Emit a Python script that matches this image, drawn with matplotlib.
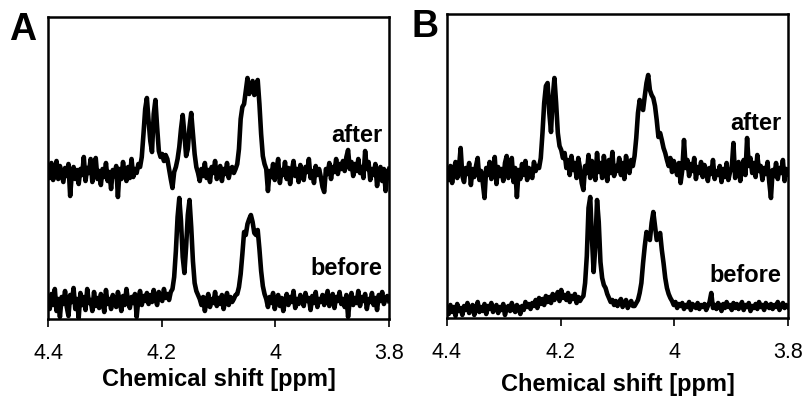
import numpy as np
import matplotlib
matplotlib.use('Agg')
import matplotlib.pyplot as plt

plt.rcParams['font.family'] = ['Liberation Sans', 'DejaVu Sans']

# chemical shift grid (ppm), 0.003 ppm step from 4.4 down to 3.8
ppm = np.linspace(4.4, 3.8, 201)
xticks = [4.4, 4.2, 4.0, 3.8]
xtick_labels = ['4.4', '4.2', '4', '3.8']
panel_names = ['A', 'B']

# intensities (arbitrary units, 0 = axis bottom)
A_after = [150, 141, 156, 139, 148, 158, 140, 153, 145, 137,
           151, 143, 155, 123, 146, 152, 140, 149, 135, 150,
           144, 162, 138, 151, 146, 160, 137, 152, 161, 140,
           148, 134, 150, 142, 156, 138, 147, 130, 149, 143,
           153, 122, 150, 140, 157, 145, 138, 152, 141, 160,
           142, 150, 146, 155, 152, 162, 185, 210, 221, 198,
           178, 167, 205, 219, 192, 168, 162, 165, 158, 164,
           160, 150, 140, 131, 147, 152, 160, 172, 190, 204,
           185, 163, 170, 192, 206, 186, 165, 152, 146, 138,
           150, 143, 156, 141, 149, 137, 152, 146, 158, 140,
           147, 153, 138, 150, 145, 156, 141, 149, 152, 146,
           150, 155, 170, 200, 212, 215, 228, 241, 225, 230,
           238, 224, 232, 239, 215, 185, 163, 155, 150, 128,
           148, 142, 155, 139, 150, 160, 136, 149, 144, 157,
           140, 151, 135, 148, 158, 143, 150, 137, 154, 145,
           139, 152, 147, 160, 141, 148, 136, 153, 144, 150,
           142, 132, 127, 150, 145, 156, 140, 152, 147, 160,
           145, 155, 150, 158, 148, 162, 169, 150, 157, 143,
           155, 148, 160, 146, 152, 141, 168, 150, 157, 139,
           150, 144, 155, 133, 148, 152, 138, 150, 128, 146,
           150]
A_before = [18, 10, 25, 14, 30, 8, 20, 2, 22, 15,
            28, 12, 3, 24, 17, 31, 10, 20, 1, 26,
            14, 22, 9, 30, 16, 19, 8, 27, 13, 21,
            11, 25, 18, 7, 29, 15, 20, 10, 24, 16,
            12, 27, 19, 8, 23, 14, 30, 17, 11, 22,
            16, 25, 2, 20, 28, 14, 23, 18, 26, 15,
            24, 17, 29, 20, 14, 27, 22, 18, 30, 21,
            25, 19, 27, 30, 42, 68, 102, 121, 98, 62,
            46, 72, 104, 119, 92, 58, 36, 28, 24, 20,
            14, 22, 8, 18, 25, 12, 20, 16, 27, 13,
            21, 15, 24, 10, 19, 26, 14, 22, 17, 20,
            24, 25, 32, 45, 65, 87, 84, 95, 100, 104,
            97, 86, 84, 89, 70, 48, 33, 25, 20, 12,
            22, 16, 26, 10, 19, 24, 13, 21, 8, 18,
            25, 14, 22, 17, 28, 11, 20, 15, 24, 19,
            13, 26, 18, 21, 9, 23, 16, 27, 12, 20,
            17, 24, 14, 21, 28, 13, 19, 25, 11, 22,
            18, 27, 15, 20, 12, 24, 2, 19, 26, 14,
            21, 16, 28, 13, 22, 18, 25, 10, 20, 17,
            26, 14, 21, 9, 24, 18, 27, 15, 20, 23,
            18]
B_after = [145, 138, 152, 135, 148, 156, 140, 150, 170, 142,
           136, 150, 144, 155, 133, 149, 141, 152, 160, 138,
           147, 135, 120, 150, 143, 156, 139, 148, 161, 134,
           151, 142, 149, 137, 155, 162, 140, 146, 160, 136,
           150, 121, 148, 139, 154, 143, 157, 138, 150, 145,
           140, 156, 147, 152, 150, 160, 185, 215, 232, 235,
           205, 186, 220, 240, 215, 185, 172, 168, 160, 165,
           150, 158, 143, 162, 148, 155, 140, 160, 150, 135,
           128, 152, 145, 163, 140, 157, 148, 138, 165, 146,
           155, 140, 162, 149, 137, 158, 145, 166, 142, 152,
           147, 160, 143, 155, 139, 162, 150, 145, 158, 152,
           162, 180, 205, 218, 212, 208, 222, 235, 243, 228,
           223, 220, 212, 198, 181, 185, 178, 170, 165, 158,
           152, 160, 146, 157, 150, 143, 155, 135, 148, 178,
           150, 158, 142, 154, 147, 160, 139, 151, 145, 156,
           141, 153, 148, 137, 150, 144, 158, 139, 147, 143,
           152, 136, 149, 141, 155, 138, 146, 150, 175, 140,
           148, 156, 137, 150, 158, 143, 180, 152, 160, 145,
           155, 141, 163, 147, 152, 138, 150, 144, 156, 136,
           120, 148, 142, 155, 139, 150, 145, 158, 137, 149,
           144]
B_before = [9, 4, 13, 6, 11, 2, 14, 7, 10, 3,
            12, 8, 15, 5, 10, 13, 3, 9, 16, 6,
            11, 7, 14, 4, 12, 9, 15, 6, 10, 13,
            5, 11, 8, 14, 3, 10, 12, 7, 15, 9,
            6, 13, 10, 4, 12, 8, 16, 11, 14, 9,
            15, 12, 18, 10, 20, 14, 19, 13, 22, 16,
            21, 15, 24, 18, 22, 26, 17, 28, 20, 23,
            18, 25, 16, 22, 19, 24, 15, 21, 17, 20,
            22, 35, 62, 110, 121, 80, 46, 72, 118, 96,
            56, 40, 33, 30, 24, 20, 16, 18, 13, 17,
            12, 16, 19, 11, 15, 18, 10, 14, 17, 12,
            12, 15, 18, 25, 35, 55, 72, 86, 82, 78,
            95, 106, 92, 78, 80, 85, 68, 55, 40, 30,
            24, 20, 17, 13, 16, 10, 14, 12, 15, 9,
            13, 11, 16, 8, 14, 12, 10, 15, 9, 13,
            11, 14, 8, 12, 16, 25, 10, 13, 9, 15,
            12, 7, 14, 10, 16, 11, 13, 8, 15, 10,
            14, 9, 12, 16, 8, 13, 11, 15, 7, 12,
            10, 14, 9, 16, 11, 13, 8, 15, 12, 10,
            14, 9, 13, 11, 16, 8, 12, 15, 10, 13,
            11]

spectra = [(A_after, A_before), (B_after, B_before)]

fig = plt.figure(figsize=(8.07, 4.01), dpi=100)
axA = fig.add_axes([48/807, 1-319/401, 341/807, 302/401])
axB = fig.add_axes([447/807, 1-318/401, 341/807, 304/401])
axes = [axA, axB]
ytops = [302, 304]
# label baselines (px above axis bottom) for after / before
lab_y = [(177, 44), (188, 36)]
labelpads = [3, 7.5]

for k, ax in enumerate(axes):
    after, before = spectra[k]
    ax.plot(ppm, after, color='black', lw=3.3, solid_joinstyle='round')
    ax.plot(ppm, before, color='black', lw=3.3, solid_joinstyle='round')
    ax.set_xlim(4.4, 3.8)
    ax.set_ylim(0, ytops[k])
    ax.set_yticks([])
    ax.set_xticks(xticks)
    ax.set_xticklabels(xtick_labels, fontsize=15.5)
    ax.tick_params(axis='x', direction='out', length=6, width=1.2, pad=11)
    for s in ax.spines.values():
        s.set_linewidth(1.8)
        s.set_color('black')
    ax.set_xlabel('Chemical shift [ppm]', fontsize=17, fontweight='bold',
                  labelpad=labelpads[k])
    ax.text(3.812, lab_y[k][0], 'after', ha='right', va='baseline',
            fontsize=17, fontweight='bold')
    ax.text(3.812, lab_y[k][1], 'before', ha='right', va='baseline',
            fontsize=17, fontweight='bold')

fig.text(9/807, 1-40/401, panel_names[0], fontsize=27, fontweight='bold',
         ha='left', va='baseline')
fig.text(411/807, 1-37/401, panel_names[1], fontsize=27, fontweight='bold',
         ha='left', va='baseline')

fig.savefig('out.png', dpi=100)
